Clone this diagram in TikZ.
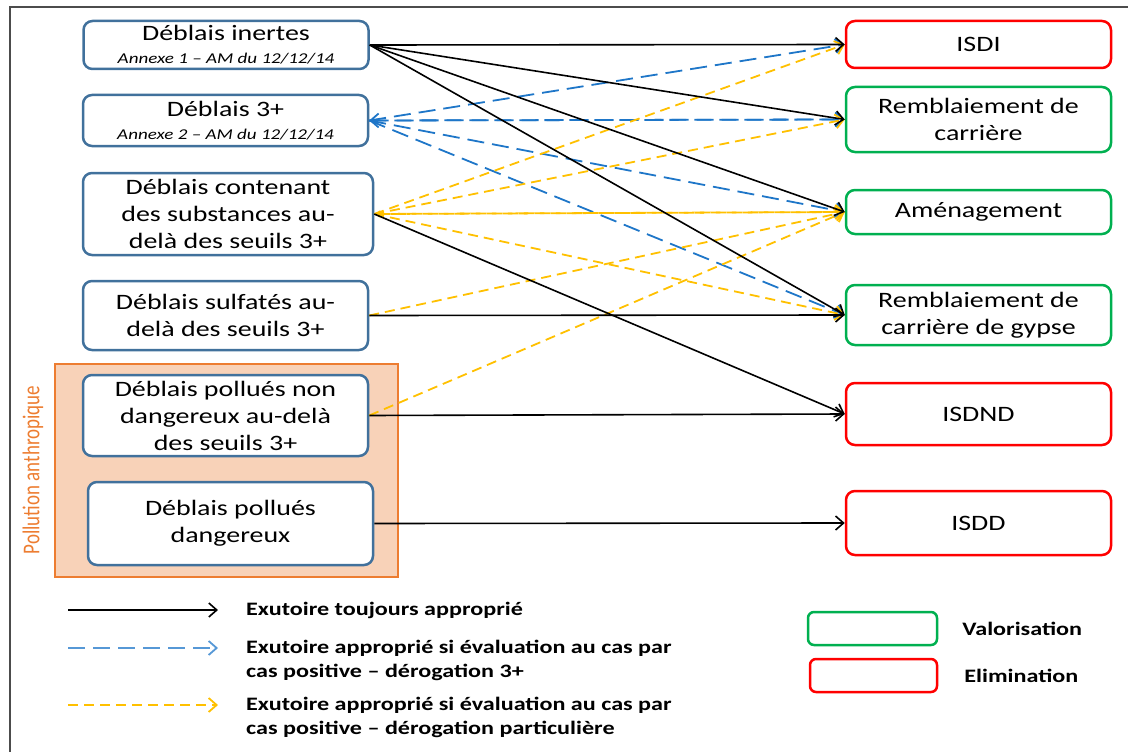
\documentclass[tikz,border=0pt]{standalone}
\usepackage{fontspec}
\setmainfont{Carlito}[FakeStretch=1.27]
\newfontfamily\rotfont{Carlito}
\usetikzlibrary{positioning,arrows.meta}
\definecolor{boxblue}{RGB}{65,113,156}
\definecolor{valgreen}{RGB}{0,176,80}
\definecolor{elimred}{RGB}{255,0,0}
\definecolor{dashblue}{RGB}{30,118,200}
\definecolor{dashyellow}{RGB}{255,192,0}
\definecolor{pollorange}{RGB}{237,125,49}
\definecolor{pollfill}{RGB}{248,210,184}
\newcommand{\annexetxt}[1]{{\fontsize{15}{18}\selectfont\itshape #1}}

\begin{document}
\begin{tikzpicture}[
				x=1pt, y=-1pt,
				>={Straight Barb[length=8pt,width=14pt]},
				src/.style={rectangle, rounded corners=9pt, draw=boxblue, line width=2.5pt, fill=white, minimum width=285pt, align=center, inner sep=1pt, font=\fontsize{22}{27}\selectfont},
				dest/.style={rectangle, rounded corners=9pt, line width=2.5pt, fill=white, minimum width=265pt, align=center, inner sep=1pt, font=\fontsize{22}{27}\selectfont},
				valo/.style={dest, draw=valgreen},
				elim/.style={dest, draw=elimred},
				always/.style={->, line width=1.6pt, black},
				der3/.style={->, line width=1.8pt, dashblue, dash pattern=on 17pt off 8pt},
				derp/.style={->, line width=1.8pt, dashyellow, dash pattern=on 10pt off 6pt},
				legtext/.style={font=\fontsize{19}{24}\selectfont\bfseries, align=left, inner sep=0pt}
				]
				\useasboundingbox (0,0) rectangle (1128,752);
				\draw[line width=2pt, black!70] (1128,7) -- (10,7) -- (10,752);
				
				\node[rectangle, draw=pollorange, line width=2pt, fill=pollfill, minimum width=343pt, minimum height=213pt] (pollzone) at (226.5,470.5) {};
				\node[rotate=90, text=pollorange, font=\rotfont\fontsize{19}{22}\selectfont] (pollab) at (33,470) {\scalebox{1}[1.27]{Pollution anthropique}};
				
				\node[src, minimum height=48pt] (inert) at (226,45) {Déblais inertes\\[-4pt]\annexetxt{Annexe 1 – AM du 12/12/14}};
				\node[src, minimum height=51pt] (d3) at (225.5,120.5) {Déblais 3+\\[-4pt]\annexetxt{Annexe 2 – AM du 12/12/14}};
				\node[src, minimum width=290pt, minimum height=82pt] (cont) at (228,214) {Déblais contenant\\des substances au-\\delà des seuils 3+};
				\node[src, minimum height=69pt] (sulf) at (225.5,315.5) {Déblais sulfatés au-\\delà des seuils 3+};
				\node[src, minimum height=81pt] (pollnd) at (225.5,415.5) {Déblais pollués non\\dangereux au-delà\\des seuils 3+};
				\node[src, minimum height=83pt] (polld) at (230.5,523.5) {Déblais pollués\\dangereux};
				
				\node[elim, minimum height=47pt] (isdi) at (978.5,44.5) {ISDI};
				\node[valo, minimum height=65pt] (carr) at (978.5,119.5) {Remblaiement de\\carrière};
				\node[valo, minimum height=44pt] (amen) at (978.5,212) {Aménagement};
				\node[valo, minimum height=60pt] (gyps) at (978.5,315) {Remblaiement de\\carrière de gypse};
				\node[elim, minimum height=62pt] (isdnd) at (978.5,414) {ISDND};
				\node[elim, minimum height=64pt] (isdd) at (978.5,523) {ISDD};
				
				\foreach \t in {isdi,carr,amen,gyps}
					\draw[der3] (d3.east) -- (\t.west);
				\draw[der3, <->] (d3.east) -- (carr.west);
				\foreach \t in {isdi,carr,amen,gyps}
					\draw[derp] (cont.east) -- (\t.west);
				\draw[derp, {Triangle[length=6pt,width=7pt]}->] (cont.east) -- (amen.west);
				\draw[derp] (sulf.east) -- (amen.west);
				\draw[derp] (pollnd.east) -- (amen.west);
				\foreach \t in {isdi,carr,amen,gyps}
					\draw[always] (inert.east) -- (\t.west);
				\draw[always] (cont.east) -- (isdnd.west);
				\draw[always] (sulf.east) -- (gyps.west);
				\draw[always] (pollnd.east) -- (isdnd.west);
				\draw[always] (polld.east) -- (isdd.west);
				
				\coordinate (leg1) at (68,610);
				\coordinate (leg1e) at (218,610);
				\coordinate (leg2) at (68,648);
				\coordinate (leg2e) at (218,648);
				\coordinate (leg3) at (68,705);
				\coordinate (leg3e) at (218,705);
				\draw[always] (leg1) -- (leg1e);
				\draw[der3, dashblue!75] (leg2) -- (leg2e);
				\draw[derp] (leg3) -- (leg3e);
				\node[legtext, right=28pt of leg1e] (txt1) {Exutoire toujours approprié};
				\node[legtext, anchor=west] (txt2) at ([xshift=28pt,yshift=-12pt]leg2e) {Exutoire approprié si évaluation au cas par\\cas positive – dérogation 3+};
				\node[legtext, anchor=west] (txt3) at ([xshift=28pt,yshift=-12pt]leg3e) {Exutoire approprié si évaluation au cas par\\cas positive – dérogation particulière};
				
				\node[rectangle, rounded corners=6pt, draw=valgreen, line width=2.5pt, minimum width=129pt, minimum height=33pt] (legval) at (872.5,628.5) {};
				\node[rectangle, rounded corners=6pt, draw=elimred, line width=2.5pt, minimum width=127pt, minimum height=33pt] (legelim) at (873.5,675.5) {};
				\node[legtext, right=24pt of legval] (txtval) {Valorisation};
				\node[legtext, right=26pt of legelim] (txtelim) {Elimination};
			\end{tikzpicture}
\end{document}
